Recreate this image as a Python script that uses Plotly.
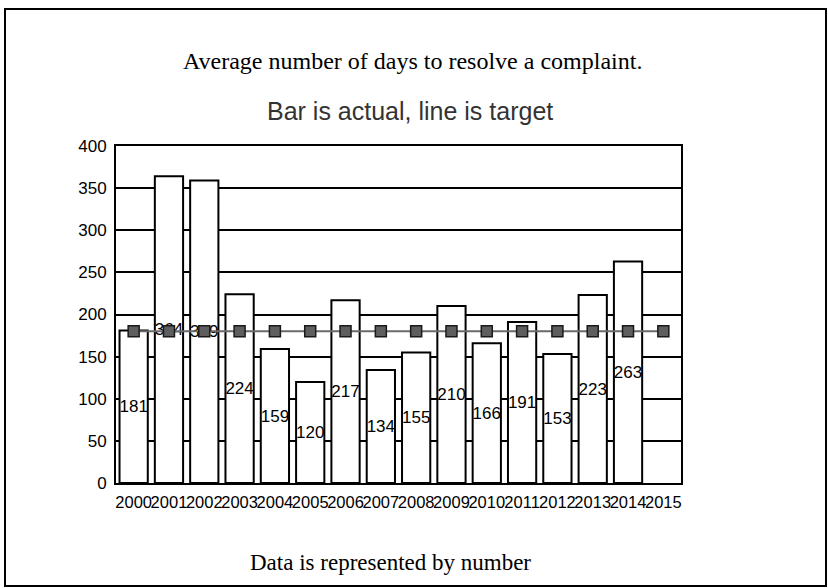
import plotly.graph_objects as go

# ---- data ----
years = ["2000", "2001", "2002", "2003", "2004", "2005", "2006", "2007",
         "2008", "2009", "2010", "2011", "2012", "2013", "2014", "2015"]
actual = [181, 364, 359, 224, 159, 120, 217, 134, 155, 210, 166, 191, 153, 223, 263, None]
target = [180, 180, 180, 180, 180, 180, 180, 180, 180, 180, 180, 180, 180, 180, 180, 180]
y_ticks = [0, 50, 100, 150, 200, 250, 300, 350, 400]

title_text = "Average number of days to resolve a complaint."
subtitle_text = "Bar is actual, line is target"
footer_text = "Data is represented by number"

SANS = "Liberation Sans, Arial, sans-serif"
SERIF = "Liberation Serif, Times New Roman, serif"

fig = go.Figure()

fig.add_trace(go.Bar(
    x=years, y=actual,
    marker=dict(color="white", line=dict(color="black", width=2)),
    text=[("" if v is None else str(v)) for v in actual],
    textposition="inside",
    insidetextanchor="middle",
    constraintext="none",
    textangle=0,
    textfont=dict(family=SANS, size=17, color="black"),
    hoverinfo="skip",
))

fig.add_trace(go.Scatter(
    x=years, y=target,
    mode="lines+markers",
    line=dict(color="#6a6a6a", width=2),
    marker=dict(symbol="square", size=11, color="#5e5e5e",
                line=dict(color="#1a1a1a", width=1.5)),
    hoverinfo="skip",
))

# plot area in pixels: x 116..681, y 146..483
L, R, T, B = 116, 828 - 681, 146, 588 - 483
PW, PH = 828 - L - R, 588 - T - B

def px(x):
    return (x - L) / PW

def py(y):
    return (588 - B - y) / PH

fig.update_layout(
    width=828, height=588,
    margin=dict(l=L, r=R, t=T, b=B, autoexpand=False),
    paper_bgcolor="white", plot_bgcolor="white",
    showlegend=False,
    bargap=0.2,
    xaxis=dict(
        type="category", range=[-0.5, len(years) - 0.5],
        showline=True, mirror=True, linecolor="black", linewidth=2,
        showgrid=False, ticks="", tickangle=0,
        tickfont=dict(family=SANS, size=16.5, color="black"),
        ticklabelstandoff=3,
    ),
    yaxis=dict(
        range=[0, 400], tickvals=y_ticks,
        showline=True, mirror=True, linecolor="black", linewidth=2,
        showgrid=True, gridcolor="black", gridwidth=1.5,
        zeroline=False, ticks="",
        tickfont=dict(family=SANS, size=17, color="black"),
        ticklabelstandoff=4,
    ),
    annotations=[
        dict(text=title_text, xref="paper", yref="paper",
             x=px(412.5), y=py(61), xanchor="center", yanchor="middle",
             showarrow=False, font=dict(family=SERIF, size=24, color="black")),
        dict(text=subtitle_text, xref="paper", yref="paper",
             x=px(410), y=py(111), xanchor="center", yanchor="middle",
             showarrow=False, font=dict(family=SANS, size=25, color="#333333")),
        dict(text=footer_text, xref="paper", yref="paper",
             x=px(390), y=py(562), xanchor="center", yanchor="middle",
             showarrow=False, font=dict(family=SERIF, size=23, color="black")),
    ],
    shapes=[
        dict(type="rect", xref="paper", yref="paper",
             x0=px(5), x1=px(826), y0=py(586), y1=py(9),
             line=dict(color="black", width=2), fillcolor="rgba(0,0,0,0)",
             layer="below"),
    ],
)

fig.write_html(
    "out.html",
    config={"displayModeBar": False},
    post_script="document.body.style.margin='0';document.body.style.overflow='hidden';",
)
